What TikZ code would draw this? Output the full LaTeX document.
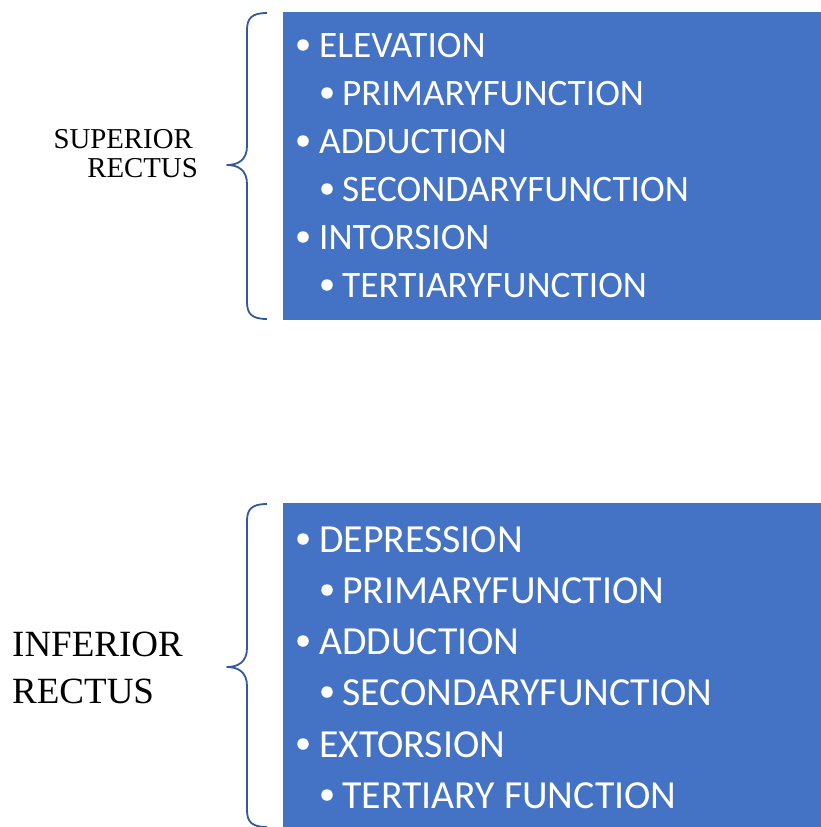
\documentclass[tikz,border=0pt]{standalone}
\usepackage{fontspec}
\setmainfont{Liberation Serif}
\newfontfamily\calib{Carlito}
\definecolor{boxblue}{HTML}{4472C4}
\definecolor{bracecol}{RGB}{52,88,158}
\begin{document}
\begin{tikzpicture}[x=1pt,y=-1pt,
  txtA/.style={anchor=base west,inner sep=0pt,text=white,font=\calib\fontsize{37.3}{38}\selectfont},
  txtB/.style={anchor=base west,inner sep=0pt,text=white,font=\calib\fontsize{39.8}{40}\selectfont},
  bul/.style={circle,fill=white,inner sep=0pt,minimum size=11.5pt},
  bracepath/.style={draw=bracecol,line width=1.8pt,line join=round}]
\useasboundingbox (0,0) rectangle (821,827);
% boxes
\node[fill=boxblue,draw=none,minimum width=538pt,minimum height=308pt,inner sep=0pt,anchor=north west] (boxA) at (283,12) {};
\node[fill=boxblue,draw=none,minimum width=538pt,minimum height=324pt,inner sep=0pt,anchor=north west] (boxB) at (283,503) {};
% braces
\draw[bracepath] (267,13) .. controls (252,13) and (247,18) .. (247,30) -- (247,146)
  .. controls (247,160) and (238,165) .. (227,165)
  .. controls (238,165) and (247,170) .. (247,184) -- (247,302)
  .. controls (247,314) and (252,319) .. (267,319);
\draw[bracepath] (267,504) .. controls (252,504) and (247,509) .. (247,521) -- (247,648)
  .. controls (247,662) and (238,667) .. (227,667)
  .. controls (238,667) and (247,672) .. (247,686) -- (247,810)
  .. controls (247,822) and (252,827) .. (267,827);
% labels
\node[anchor=base east,inner sep=0pt,font=\fontsize{28.8}{30}\selectfont] (supA) at (193,148) {SUPERIOR};
\node[anchor=base east,inner sep=0pt,font=\fontsize{28.8}{30}\selectfont] (supB) at (198,177) {RECTUS};
\node[anchor=base west,inner sep=0pt,font=\fontsize{37}{38}\selectfont] (infA) at (12,656) {INFERIOR};
\node[anchor=base west,inner sep=0pt,font=\fontsize{37}{38}\selectfont] (infB) at (12,703) {RECTUS};
% top list
\node[bul] (ba1) at (303,45) {};
\node[txtA] (ta1) at (319,57) {ELEVATION};
\node[bul] (ba2) at (327,93) {};
\node[txtA] (ta2) at (342,105) {PRIMARYFUNCTION};
\node[bul] (ba3) at (303,141) {};
\node[txtA] (ta3) at (319,153) {ADDUCTION};
\node[bul] (ba4) at (327,189) {};
\node[txtA] (ta4) at (342,201) {SECONDARYFUNCTION};
\node[bul] (ba5) at (303,237) {};
\node[txtA] (ta5) at (319,249) {INTORSION};
\node[bul] (ba6) at (327,285) {};
\node[txtA] (ta6) at (342,297) {TERTIARYFUNCTION};
% bottom list
\node[bul] (bb1) at (303,539) {};
\node[txtB] (tb1) at (319,552) {DEPRESSION};
\node[bul] (bb2) at (327,590) {};
\node[txtB] (tb2) at (342,603) {PRIMARYFUNCTION};
\node[bul] (bb3) at (303,641) {};
\node[txtB] (tb3) at (319,654) {ADDUCTION};
\node[bul] (bb4) at (327,692) {};
\node[txtB] (tb4) at (342,705) {SECONDARYFUNCTION};
\node[bul] (bb5) at (303,744) {};
\node[txtB] (tb5) at (319,757) {EXTORSION};
\node[bul] (bb6) at (327,795) {};
\node[txtB] (tb6) at (342,808) {TERTIARY FUNCTION};
\end{tikzpicture}
\end{document}
